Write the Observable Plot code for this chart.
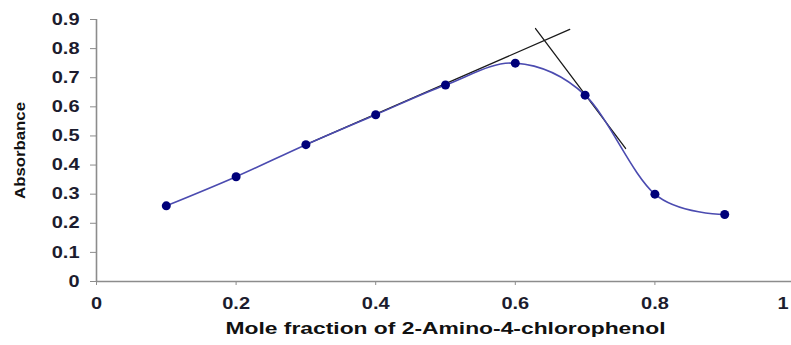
<!DOCTYPE html>
<html>
<head>
<meta charset="utf-8">
<script src="https://cdn.jsdelivr.net/npm/d3@7"></script>
<script src="https://cdn.jsdelivr.net/npm/@observablehq/plot@0.6"></script>
<style>
  html, body { margin: 0; padding: 0; background: #fff; overflow: hidden; }
  svg { overflow: visible; }
</style>
</head>
<body>
<script>
// Data
const moleFraction = [0.1, 0.2, 0.3, 0.4, 0.5, 0.6, 0.7, 0.8, 0.9];
const absorbance   = [0.26, 0.36, 0.47, 0.573, 0.675, 0.75, 0.64, 0.30, 0.23];

// Tangent lines drawn on the Job's plot
const tangent1X = [0.3, 0.678];
const tangent1Y = [0.47, 0.866];
const tangent2X = [0.629, 0.758];
const tangent2Y = [0.869, 0.457];

// Axis ticks
const xTicks = [0, 0.2, 0.4, 0.6, 0.8, 1];
const xTickLabels = ["0", "0.2", "0.4", "0.6", "0.8", "1"];
const yTicks = [0, 0.1, 0.2, 0.3, 0.4, 0.5, 0.6, 0.7, 0.8, 0.9];
const yTickLabels = ["0", "0.1", "0.2", "0.3", "0.4", "0.5", "0.6", "0.7", "0.8", "0.9"];

const xTitle = "Mole fraction of 2-Amino-4-chlorophenol";
const yTitle = "Absorbance";

const points = moleFraction.map((x, i) => ({x, y: absorbance[i]}));
const tan1 = tangent1X.map((x, i) => ({x, y: tangent1Y[i]}));
const tan2 = tangent2X.map((x, i) => ({x, y: tangent2Y[i]}));

const textColor = "#1c1c2e";
const axisColor = "#8c8c8c";

const chart = Plot.plot({
  width: 791,
  height: 345,
  marginLeft: 96,
  marginRight: -3,
  marginTop: 19,
  marginBottom: 64,
  style: {fontFamily: "'Liberation Sans', Arial, sans-serif", fontSize: "16px", fontWeight: "bold", color: textColor, background: "#fff"},
  x: {domain: [0, 1]},
  y: {domain: [0, 0.9]},
  marks: [
    Plot.axisX({ticks: xTicks, tickFormat: (d, i) => xTickLabels[i], tickSize: 4, tickPadding: 12, stroke: axisColor, label: null}),
    Plot.axisY({ticks: yTicks, tickFormat: (d, i) => yTickLabels[i], tickSize: 6, tickPadding: 11, stroke: axisColor, label: null}),
    Plot.ruleX([0], {stroke: axisColor, strokeWidth: 1.6}),
    Plot.ruleY([0], {stroke: axisColor, strokeWidth: 1.6}),
    Plot.line(tan1, {x: "x", y: "y", stroke: "#1a1a1a", strokeWidth: 1.3}),
    Plot.line(tan2, {x: "x", y: "y", stroke: "#1a1a1a", strokeWidth: 1.3}),
    Plot.line(points, {x: "x", y: "y", curve: "cardinal", stroke: "#4b4bb0", strokeWidth: 1.6}),
    Plot.dot(points, {x: "x", y: "y", r: 4.5, fill: "#00007a", stroke: "none"}),
    Plot.text([xTitle], {frameAnchor: "bottom", dy: 52, fontSize: 17, fontWeight: "bold", fill: "#111", text: d => d, className: "xtitle"}),
    Plot.text([yTitle], {frameAnchor: "left", dx: -76, rotate: -90, textAnchor: "middle", fontSize: 14, fontWeight: "bold", fill: "#111", text: d => d, className: "ytitle"})
  ]
});

document.body.append(chart);

// Widen texts to match the reference's horizontally stretched rendering
d3.select(chart).selectAll("g[aria-label$='tick label'] text").each(function() {
  const len = this.getComputedTextLength();
  this.setAttribute("textLength", (len * 1.25).toFixed(1));
  this.setAttribute("lengthAdjust", "spacingAndGlyphs");
});
// Keep the last x tick label ("1") inside the picture
const xLabels = d3.select(chart).selectAll("g[aria-label='x-axis tick label'] text").nodes();
if (xLabels.length) {
  const last = xLabels[xLabels.length - 1];
  last.setAttribute("text-anchor", "end");
  last.setAttribute("dx", "-6");
}
d3.select(chart).selectAll(".xtitle text").each(function() {
  this.setAttribute("textLength", 440);
  this.setAttribute("lengthAdjust", "spacingAndGlyphs");
});
d3.select(chart).selectAll(".ytitle text").each(function() {
  this.setAttribute("textLength", 97);
  this.setAttribute("lengthAdjust", "spacingAndGlyphs");
});
</script>
</body>
</html>
